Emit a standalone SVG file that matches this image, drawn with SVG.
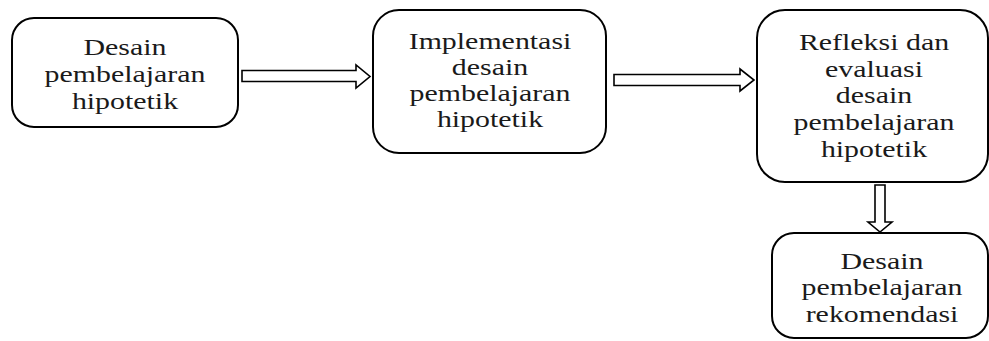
<svg xmlns="http://www.w3.org/2000/svg" width="989" height="341" viewBox="0 0 989 341">
<style>
.box{fill:#fff;stroke:#000;stroke-width:2}
.arr{fill:#fff;stroke:#000;stroke-width:1.6;stroke-linejoin:miter}
.t{font-family:"Liberation Serif","Times New Roman",serif;font-size:23px;fill:#1a1a1a;text-anchor:middle}
</style>
<rect width="989" height="341" fill="#fff"/>
<g id="connectors">
<path class="arr" d="M242,70.5 H356 V65 L370,76.5 L356,88 V81.5 H242 Z"/>
<path class="arr" d="M614,74.5 H740 V69 L754,80 L740,91 V85.5 H614 Z"/>
<path class="arr" d="M875,185 V222 H868 L880,232 L892,222 H885 V185 Z"/>
</g>
<g id="node1">
<rect class="box" x="12" y="18" width="226" height="109" rx="22"/>
<g transform="translate(125,0) scale(1.3,1)">
<text class="t" x="0" y="55">Desain</text>
<text class="t" x="0" y="82">pembelajaran</text>
<text class="t" x="0" y="109">hipotetik</text>
</g>
</g>
<g id="node2">
<rect class="box" x="373" y="10" width="233" height="143" rx="26"/>
<g transform="translate(490,0) scale(1.3,1)">
<text class="t" x="0" y="49">Implementasi</text>
<text class="t" x="0" y="75">desain</text>
<text class="t" x="0" y="101">pembelajaran</text>
<text class="t" x="0" y="127">hipotetik</text>
</g>
</g>
<g id="node3">
<rect class="box" x="757" y="10" width="231" height="172" rx="28"/>
<g transform="translate(874,0) scale(1.3,1)">
<text class="t" x="0" y="50">Refleksi dan</text>
<text class="t" x="0" y="77">evaluasi</text>
<text class="t" x="0" y="103">desain</text>
<text class="t" x="0" y="130">pembelajaran</text>
<text class="t" x="0" y="157">hipotetik</text>
</g>
</g>
<g id="node4">
<rect class="box" x="772" y="233" width="216" height="105" rx="22"/>
<g transform="translate(882,0) scale(1.3,1)">
<text class="t" x="0" y="269">Desain</text>
<text class="t" x="0" y="295">pembelajaran</text>
<text class="t" x="0" y="322">rekomendasi</text>
</g>
</g>
</svg>
